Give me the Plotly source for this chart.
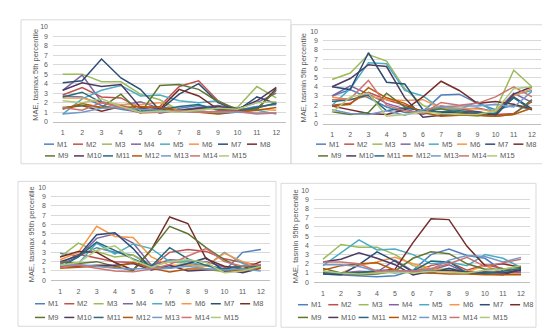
import plotly.graph_objects as go

W, H = 550, 333

months = list(range(1, 13))
tick_labels = [str(m) for m in months]
models = ["M%d" % i for i in range(1, 16)]
colors = ["#4F81BD", "#C0504D", "#9BBB59", "#8064A2", "#4BACC6", "#F79646",
          "#2C4D75", "#772C2A", "#5F7530", "#4D3B62", "#276A7C", "#B65708",
          "#729ACA", "#CD7371", "#AFC97A"]
y_titles = ["MAE, tasmax 5th percentile", "MAE, tasmin 5th percentile",
            "MAE, tasmax 95th percentile", "MAE, tasmin 95th percentile"]

# MAE values, one row per model M1..M15, columns = months 1..12
tasmax_p5 = [
    [2.7, 2.6, 1.7, 1.3, 1.0, 1.5, 1.4, 1.7, 1.4, 1.2, 1.6, 1.8],
    [2.8, 3.6, 2.6, 2.5, 1.4, 1.6, 3.7, 4.3, 2.2, 1.2, 1.4, 2.0],
    [5.0, 5.0, 4.2, 4.2, 2.9, 2.3, 1.2, 1.3, 1.5, 1.5, 3.7, 2.5],
    [3.3, 4.9, 2.1, 1.7, 2.1, 1.4, 1.2, 1.5, 1.7, 1.4, 2.0, 3.0],
    [0.8, 2.4, 3.3, 3.8, 2.7, 2.8, 2.2, 2.0, 2.2, 1.0, 1.2, 0.8],
    [2.5, 2.5, 2.0, 1.8, 1.8, 2.0, 1.1, 1.2, 0.8, 1.1, 1.3, 1.2],
    [4.1, 4.3, 6.6, 4.6, 3.4, 1.2, 2.9, 4.0, 2.0, 1.2, 2.6, 1.9],
    [1.4, 1.7, 1.1, 1.6, 1.3, 1.3, 3.4, 2.7, 1.3, 1.2, 1.3, 3.5],
    [1.5, 1.7, 1.5, 2.9, 0.9, 3.8, 3.9, 3.4, 2.1, 1.3, 1.3, 3.3],
    [3.3, 4.1, 3.7, 3.9, 1.5, 0.9, 1.2, 1.4, 1.6, 1.3, 2.2, 3.6],
    [2.6, 3.1, 2.0, 1.5, 1.1, 1.2, 1.6, 1.8, 1.2, 1.1, 1.5, 1.9],
    [1.3, 1.9, 1.5, 1.5, 1.6, 1.5, 1.1, 1.0, 0.8, 1.0, 1.2, 1.5],
    [0.8, 1.0, 1.4, 1.5, 1.3, 1.2, 1.0, 1.1, 1.0, 1.0, 0.9, 0.9],
    [1.5, 1.2, 2.0, 1.5, 0.9, 1.0, 1.2, 1.0, 1.1, 1.1, 0.8, 0.9],
    [2.2, 2.0, 2.4, 1.6, 1.0, 1.1, 1.0, 1.2, 1.4, 1.3, 2.0, 2.1],
]
tasmin_p5 = [
    [3.0, 3.7, 2.8, 1.8, 1.2, 1.3, 3.1, 3.2, 2.2, 1.5, 2.0, 1.5],
    [2.0, 2.2, 3.4, 2.6, 2.0, 1.3, 1.9, 1.6, 1.3, 1.0, 1.1, 2.4],
    [4.8, 5.5, 7.5, 6.8, 3.8, 2.0, 1.0, 1.0, 0.8, 1.5, 5.8, 4.0],
    [3.0, 4.1, 3.2, 2.2, 1.6, 1.0, 1.8, 1.5, 1.7, 1.3, 3.3, 2.3],
    [2.0, 3.8, 6.6, 6.5, 3.6, 3.0, 1.6, 1.5, 2.4, 1.2, 3.1, 3.6],
    [2.9, 2.6, 3.0, 2.6, 2.5, 2.6, 1.7, 1.7, 1.6, 1.3, 3.0, 3.8],
    [4.0, 3.7, 7.7, 4.5, 4.3, 1.5, 1.2, 1.2, 1.3, 0.9, 2.9, 1.6],
    [1.9, 1.5, 1.1, 1.0, 1.5, 2.9, 4.6, 3.6, 2.2, 2.4, 2.1, 1.6],
    [1.3, 1.0, 1.2, 3.3, 1.8, 1.4, 1.6, 1.2, 0.9, 0.8, 1.0, 2.6],
    [4.0, 4.9, 6.4, 6.2, 2.8, 0.7, 0.9, 1.0, 1.1, 1.0, 3.2, 4.0],
    [2.4, 2.6, 3.1, 1.4, 1.7, 1.4, 1.3, 1.4, 1.2, 1.1, 2.8, 1.5],
    [1.9, 2.1, 3.9, 2.8, 2.2, 1.2, 0.8, 0.9, 0.9, 0.8, 1.0, 1.7],
    [1.5, 1.1, 1.0, 1.4, 0.9, 1.5, 1.8, 1.9, 1.9, 2.1, 1.8, 3.5],
    [2.6, 2.7, 4.7, 2.0, 1.4, 1.1, 2.3, 2.0, 2.2, 2.9, 4.0, 2.9],
    [1.2, 2.9, 3.3, 0.8, 1.0, 1.3, 1.1, 1.0, 1.0, 1.4, 3.8, 4.0],
]
tasmax_p95 = [
    [2.9, 2.6, 3.5, 3.0, 2.7, 1.5, 1.4, 1.8, 1.6, 1.0, 3.0, 3.3],
    [1.8, 2.8, 2.4, 2.0, 1.9, 1.4, 3.0, 3.3, 3.1, 2.3, 1.9, 1.6],
    [2.5, 4.0, 3.1, 2.5, 2.7, 1.7, 2.0, 1.8, 1.2, 0.9, 1.3, 1.6],
    [1.7, 2.5, 4.5, 5.0, 4.0, 1.6, 2.2, 2.1, 2.0, 1.4, 1.5, 1.6],
    [1.5, 1.8, 4.0, 2.8, 3.9, 3.4, 2.0, 2.0, 1.5, 3.0, 1.8, 1.3],
    [2.2, 3.0, 5.8, 4.7, 4.6, 2.5, 1.6, 1.6, 1.5, 2.9, 2.0, 1.4],
    [2.0, 2.6, 4.9, 5.1, 3.4, 1.2, 1.3, 1.8, 2.4, 1.0, 0.9, 1.5],
    [2.5, 3.1, 3.0, 1.9, 1.1, 3.3, 6.8, 6.1, 2.3, 1.5, 1.2, 2.0],
    [2.0, 1.8, 2.0, 1.5, 1.0, 3.3, 5.8, 5.0, 3.5, 2.2, 1.2, 1.5],
    [1.5, 1.5, 1.6, 1.6, 1.8, 1.1, 1.6, 1.0, 1.1, 1.2, 0.8, 1.3],
    [1.4, 2.5, 4.1, 3.2, 2.3, 1.5, 3.5, 2.3, 1.6, 1.2, 1.5, 1.5],
    [1.3, 1.4, 1.5, 1.4, 1.9, 1.3, 0.9, 1.2, 1.2, 1.1, 1.0, 1.3],
    [1.6, 1.7, 1.5, 1.3, 1.2, 1.3, 1.3, 1.5, 1.2, 1.1, 1.2, 1.0],
    [1.4, 1.6, 1.3, 1.0, 0.9, 1.2, 1.7, 2.6, 3.4, 2.0, 1.5, 1.7],
    [1.6, 1.9, 3.2, 3.7, 2.2, 1.4, 2.0, 2.2, 1.9, 0.8, 1.0, 1.5],
]
tasmin_p95 = [
    [0.9, 0.8, 0.7, 0.6, 0.7, 1.3, 3.0, 3.6, 2.9, 2.6, 1.2, 1.0],
    [1.0, 0.9, 0.9, 1.0, 1.1, 1.1, 1.8, 2.2, 1.3, 1.9, 1.5, 1.2],
    [2.5, 4.1, 3.8, 3.8, 3.0, 1.8, 1.3, 1.5, 1.2, 0.9, 1.1, 1.6],
    [1.0, 1.0, 1.2, 1.1, 2.4, 1.2, 1.3, 1.9, 1.0, 1.1, 1.0, 1.1],
    [1.8, 3.2, 4.6, 3.5, 3.6, 3.0, 2.0, 2.2, 1.8, 3.0, 2.6, 1.6],
    [1.0, 1.0, 1.8, 2.2, 2.7, 2.0, 1.5, 1.2, 1.1, 1.8, 1.0, 0.9],
    [0.9, 0.8, 1.9, 3.3, 2.3, 1.1, 1.0, 1.5, 1.0, 0.9, 0.8, 1.4],
    [1.1, 1.0, 1.0, 1.2, 1.4, 4.3, 6.9, 6.8, 3.9, 1.8, 2.0, 1.6],
    [1.5, 1.0, 0.8, 0.9, 1.2, 2.6, 3.3, 3.1, 2.0, 1.4, 1.4, 1.7],
    [2.2, 2.5, 3.2, 2.6, 1.9, 0.8, 1.2, 1.3, 1.1, 1.1, 1.0, 1.3],
    [1.0, 1.0, 1.0, 1.3, 1.2, 1.2, 2.3, 2.2, 1.0, 1.0, 1.2, 1.5],
    [1.3, 1.8, 2.0, 2.1, 1.3, 1.1, 1.0, 0.9, 0.9, 0.8, 0.8, 0.8],
    [1.9, 1.9, 1.7, 1.2, 1.0, 1.2, 1.4, 2.4, 2.9, 2.8, 2.2, 2.7],
    [2.2, 2.2, 2.0, 1.2, 1.3, 1.2, 1.5, 2.0, 2.7, 1.7, 2.1, 2.5],
    [1.2, 1.0, 0.9, 1.0, 1.1, 1.0, 1.2, 1.1, 1.0, 1.3, 1.4, 1.8],
]
panels_data = [tasmax_p5, tasmin_p5, tasmax_p95, tasmin_p95]

# ---- layout geometry (pixels) ----
plot_px = [  # x0, x1, ytop, ybottom
    (45, 278, 15, 112),
    (315, 533, 20, 114),
    (43, 262, 179, 274),
    (306, 522, 182, 276),
]
box_px = [(13, 283, 8, 155), (283, 542, 13, 155), (10, 268, 173, 321), (273, 528, 175, 322)]
title_px = [(28, 64), (296, 67), (23, 227), (287, 229)]
legend_px = [  # x start row1, x start row2, spacing, y row1, y row2
    (36, 37, 29.0, 135, 147),
    (308, 310, 28.2, 135, 147),
    (27, 27, 29.3, 298, 312),
    (290, 290, 30.3, 299, 312),
]

def px(x):
    return x / W

def py(y):
    return 1 - y / H

fig = go.Figure()
layout = dict(
    width=W, height=H, margin=dict(l=0, r=0, t=0, b=0),
    paper_bgcolor="white", plot_bgcolor="white", showlegend=False,
    font=dict(family="Liberation Sans, Arial, sans-serif", color="#595959"),
)
shapes = []
annotations = []

for p, data in enumerate(panels_data):
    idx = "" if p == 0 else str(p + 1)
    x0, x1, yt, yb = plot_px[p]
    layout["xaxis" + idx] = dict(
        domain=[px(x0), px(x1)], anchor="y" + idx, range=[0.5, 12.5],
        tickmode="array", tickvals=months, ticktext=tick_labels,
        showgrid=False, zeroline=False, showline=True, linecolor="#BFBFBF", linewidth=1,
        ticks="", tickfont=dict(size=7, color="#595959"), ticklabelstandoff=4,
        fixedrange=True,
    )
    layout["yaxis" + idx] = dict(
        domain=[py(yb), py(yt)], anchor="x" + idx, range=[0, 10],
        tickmode="linear", tick0=0, dtick=1,
        showgrid=True, gridcolor="#D9D9D9", gridwidth=1, zeroline=False, showline=False,
        ticks="", tickfont=dict(size=7, color="#595959"), ticklabelstandoff=4,
        fixedrange=True,
    )
    for m, name in enumerate(models):
        fig.add_trace(go.Scatter(
            x=months, y=data[m], mode="lines", name=name,
            line=dict(color=colors[m], width=1.5),
            xaxis="x" + idx, yaxis="y" + idx, showlegend=False,
        ))
    bx0, bx1, by0, by1 = box_px[p]
    shapes.append(dict(type="rect", xref="paper", yref="paper",
                       x0=px(bx0), x1=px(bx1), y0=py(by1), y1=py(by0),
                       line=dict(color="#D9D9D9", width=1), layer="below"))
    tx, ty = title_px[p]
    annotations.append(dict(x=px(tx), y=py(ty), xref="paper", yref="paper",
                            text=y_titles[p], textangle=-90, showarrow=False,
                            font=dict(size=7.5, color="#595959"),
                            xanchor="center", yanchor="middle"))
    # legend (two rows: M1-M8, M9-M15)
    lx1, lx2, sp, ly1, ly2 = legend_px[p]
    for m, name in enumerate(models):
        row = 0 if m < 8 else 1
        k = m if row == 0 else m - 8
        lx = (lx1 if row == 0 else lx2) + k * sp
        ly = ly1 if row == 0 else ly2
        shapes.append(dict(type="line", xref="paper", yref="paper",
                           x0=px(lx), x1=px(lx + 10), y0=py(ly), y1=py(ly),
                           line=dict(color=colors[m], width=1.5)))
        annotations.append(dict(x=px(lx + 11), y=py(ly), xref="paper", yref="paper",
                                text=name, showarrow=False, xanchor="left", yanchor="middle",
                                font=dict(size=7.5, color="#595959")))

layout["shapes"] = shapes
layout["annotations"] = annotations
fig.update_layout(**layout)
fig.write_html("out.html")
